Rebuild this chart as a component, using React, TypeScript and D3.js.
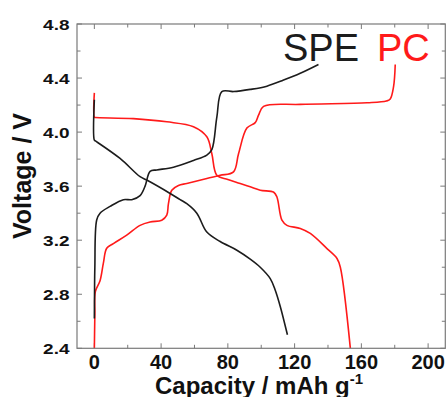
import React from "react";
import * as d3 from "d3";

// ---- data (capacity mAh/g, voltage V) ----
const speChargeCap = [0, 0.1, 0.3, 1.4, 3.4, 9.4, 17.4, 22.4, 27.4, 30.4, 33.4, 37.4, 47.4, 59.4, 67.4, 70.4, 73.4, 76.4, 83.4, 93.4, 103.4, 113.4, 123.4, 134.3];
const speChargeV = [2.62, 2.8, 3.0, 3.35, 3.40, 3.45, 3.50, 3.50, 3.53, 3.60, 3.71, 3.72, 3.74, 3.79, 3.83, 3.87, 4.11, 4.30, 4.30, 4.316, 4.34, 4.385, 4.435, 4.50];

const speDischargeCap = [0, 0, 0.6, 15.4, 27.4, 31.4, 45.4, 51.4, 55.4, 61.4, 67.4, 75.4, 85.4, 93.4, 99.4, 105.4, 108.4, 111.4, 115.7];
const speDischargeV = [4.24, 3.94, 3.935, 3.805, 3.67, 3.645, 3.546, 3.50, 3.47, 3.40, 3.26, 3.19, 3.126, 3.06, 3.0, 2.916, 2.83, 2.71, 2.50];

const pcChargeCap = [0, 0.3, 0.6, 3.4, 5.4, 7.4, 11.4, 19.4, 27.4, 33.4, 40.4, 43.4, 44.4, 46.4, 50.4, 55.4, 67.4, 75.4, 83.4, 86.4, 91.4, 96.4, 98.4, 101.4, 123.4, 163.4, 175, 177.3, 179.3, 180.3];
const pcChargeV = [2.40, 2.65, 2.82, 2.90, 3.03, 3.14, 3.175, 3.237, 3.31, 3.335, 3.348, 3.385, 3.47, 3.57, 3.605, 3.62, 3.657, 3.68, 3.706, 3.84, 4.03, 4.07, 4.126, 4.19, 4.205, 4.217, 4.23, 4.245, 4.336, 4.50];

const pcDischargeCap = [0, 0, 0.6, 23.4, 43.4, 59.4, 67.4, 70.4, 73.4, 80, 87.4, 93.4, 99.4, 107.5, 109.4, 112.4, 115.4, 123.4, 129.4, 139.4, 145.4, 147.4, 153.4];
const pcDischargeV = [4.29, 4.11, 4.108, 4.10, 4.076, 4.04, 3.965, 3.84, 3.68, 3.65, 3.62, 3.595, 3.57, 3.555, 3.52, 3.348, 3.31, 3.287, 3.25, 3.138, 3.065, 3.0, 2.40];

const xTickLabels = [0, 40, 80, 120, 160, 200];
const yTickLabels = [2.4, 2.8, 3.2, 3.6, 4.0, 4.4, 4.8];
const legendLabels = ["SPE", "PC"];

const W = 446;
const H = 397;
const left = 77, right = 445.3, top = 24, bottom = 348.3;

export default function App() {
  const x = d3.scaleLinear().domain([-10.4, 210.3]).range([left, right]);
  const y = d3.scaleLinear().domain([2.4, 4.8]).range([bottom, top]);

  const line = d3
    .line<[number, number]>()
    .x((d) => x(d[0]))
    .y((d) => y(d[1]))
    .curve(d3.curveCatmullRom.alpha(0.5));

  const zip = (a: number[], b: number[]) => a.map((v, i) => [v, b[i]] as [number, number]);

  const black = "#1c1c1c";
  const red = "#ff1a1a";
  const frame = "#7a7a7a";

  const xTicks = d3.range(0, 201, 20);
  const yTicks = d3.range(2.4, 4.81, 0.2).map((v) => +v.toFixed(1));
  const isXMajor = (v: number) => v % 40 === 0;
  const isYMajor = (v: number) => Math.abs(Math.round(v * 10) % 4) === 0;

  return (
    <svg width={W} height={H} style={{ position: "absolute", left: 0, top: 0, background: "#fff" }}
      fontFamily="'Liberation Sans', Arial, sans-serif">
      <rect x={0} y={0} width={W} height={H} fill="#fff" />
      {/* ticks */}
      {xTicks.map((v) => {
        const len = isXMajor(v) ? 5 : 3.5;
        return (
          <g key={"xt" + v} stroke={frame} strokeWidth={1}>
            <line x1={x(v)} x2={x(v)} y1={bottom} y2={bottom - len} />
            <line x1={x(v)} x2={x(v)} y1={top} y2={top + len} />
          </g>
        );
      })}
      {yTicks.map((v) => {
        const len = isYMajor(v) ? 5 : 3.5;
        return (
          <g key={"yt" + v} stroke={frame} strokeWidth={1}>
            <line x1={left} x2={left + len} y1={y(v)} y2={y(v)} />
            <line x1={right} x2={right - len} y1={y(v)} y2={y(v)} />
          </g>
        );
      })}
      {/* curves */}
      <path d={line(zip(pcDischargeCap, pcDischargeV)) || ""} fill="none" stroke={red} strokeWidth={1.6} />
      <path d={line(zip(pcChargeCap, pcChargeV)) || ""} fill="none" stroke={red} strokeWidth={1.6} />
      <path d={line(zip(speDischargeCap, speDischargeV)) || ""} fill="none" stroke={black} strokeWidth={1.6} />
      <path d={line(zip(speChargeCap, speChargeV)) || ""} fill="none" stroke={black} strokeWidth={1.6} />
      {/* frame */}
      <rect x={left} y={top} width={right - left} height={bottom - top} fill="none" stroke={frame} strokeWidth={1.2} />
      {/* x tick labels */}
      {xTickLabels.map((v) => (
        <text key={"xl" + v} x={x(v)} y={368.5} textAnchor="middle" fontSize={20} fontWeight="bold" fill="#111">
          {v}
        </text>
      ))}
      {/* y tick labels */}
      {yTickLabels.map((v) => (
        <text key={"yl" + v} transform={`translate(69.5,${y(v) + 5.5}) scale(1,0.8)`} textAnchor="end" fontSize={19} fontWeight="bold" fill="#111">
          {v.toFixed(1)}
        </text>
      ))}
      {/* axis titles */}
      <text x={155} y={393.5} fontSize={24} fontWeight="bold" fill="#111">
        Capacity / mAh g
        <tspan dy={-10} fontSize={15}>-1</tspan>
      </text>
      <text transform={`translate(31,176) rotate(-90)`} textAnchor="middle" fontSize={25} fontWeight="bold" fill="#111">
        Voltage / V
      </text>
      {/* legend */}
      <text x={283} y={61} fontSize={38} fill={black}>{legendLabels[0]}</text>
      <text x={377} y={61} fontSize={38} fill={red}>{legendLabels[1]}</text>
    </svg>
  );
}
